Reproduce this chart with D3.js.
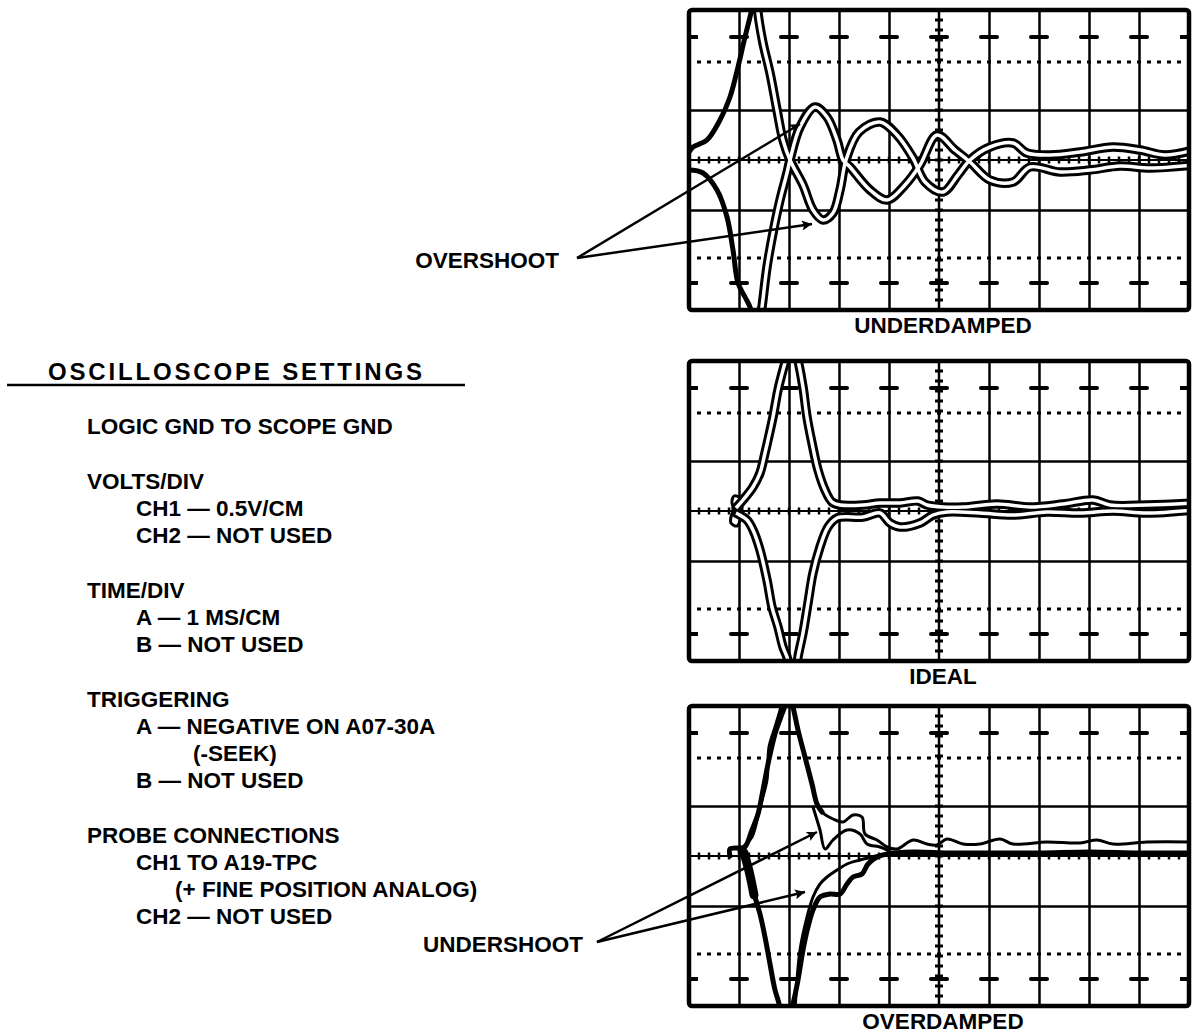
<!DOCTYPE html>
<html>
<head>
<meta charset="utf-8">
<script src="https://cdn.jsdelivr.net/npm/d3@7/dist/d3.min.js"></script>
<style>
body{margin:0;background:#fff;}
svg{display:block;}
text{font-family:"Liberation Sans",Arial,Helvetica,sans-serif;font-weight:bold;fill:#000;}
</style>
</head>
<body>
<svg id="chart"></svg>
<script>
// ---------- data (divisions: x 0..10 from left, y -3..3 from centre) ----------
var panelNames = ["UNDERDAMPED","IDEAL","OVERDAMPED"];
var gridCols = [1,2,3,4,6,7,8,9];
var gridRows = [-1,1];
var dottedRows = [-1.96,1.96];
var tickRows = [-2.46,2.46];

// underdamped
var underPosRise = [[0,0.16],[0.08,0.26],[0.36,0.4],[0.62,0.8],[0.82,1.26],[0.98,1.86],[1.12,2.46],[1.22,2.86],[1.3,3.2]];
var underNegFall = [[0,-0.2],[0.28,-0.26],[0.56,-0.6],[0.76,-1.14],[0.88,-1.8],[0.98,-2.46],[1.12,-2.74],[1.22,-2.94],[1.28,-3.2]];
var underPosRing = [[1.36,3.2],[1.38,2.94],[1.48,2.34],[1.62,1.74],[1.76,1.0],[1.88,0.4],[2.02,0],[2.28,-0.5],[2.48,-1.0],[2.68,-1.2],[2.88,-1.06],[3.02,-0.6],[3.14,0],[3.4,0.56],[3.82,0.76],[4.16,0.5],[4.48,0.04],[4.72,-0.44],[5.08,-0.64],[5.38,-0.3],[5.62,0],[6.02,0.26],[6.48,0.34],[6.76,0.14],[7.22,0.1],[7.82,0.16],[8.48,0.26],[9.02,0.2],[9.52,0.1],[10.1,0.2]];
var underNegRing = [[1.42,-3.2],[1.46,-2.94],[1.56,-2.14],[1.68,-1.46],[1.82,-0.8],[1.96,-0.26],[2.02,0],[2.22,0.66],[2.52,1.06],[2.76,0.86],[2.96,0.4],[3.08,0],[3.22,-0.14],[3.62,-0.6],[3.96,-0.8],[4.32,-0.5],[4.62,-0.1],[4.96,0.5],[5.32,0.2],[5.62,-0.04],[6.02,-0.4],[6.48,-0.44],[6.82,-0.14],[7.42,-0.24],[8.02,-0.2],[8.62,-0.12],[9.22,-0.16],[10.1,-0.1]];

// ideal
var idealLoop = [[0.94,0.02],[0.86,0.16],[0.9,0.3],[1.02,0.26],[1.06,0.1],[1.04,-0.12],[0.96,-0.3],[0.84,-0.24],[0.86,-0.06],[0.94,0.02]];
var idealPosRise = [[0.94,0.06],[1.08,0.22],[1.28,0.48],[1.42,0.76],[1.52,1.16],[1.58,1.42],[1.68,1.88],[1.78,2.42],[1.88,2.82],[1.96,3.1]];
var idealPosFall = [[2.16,3.1],[2.18,3.02],[2.28,2.48],[2.36,1.88],[2.46,1.36],[2.58,0.82],[2.72,0.42],[2.86,0.18],[3.02,0.12],[3.48,0.12],[3.82,0.16],[4.22,0.16],[4.58,0.2],[4.76,0.12],[5.08,0.08],[5.48,0.08],[6.16,0.14],[6.82,0.08],[7.48,0.14],[8.08,0.22],[8.42,0.12],[9.16,0.12],[10.1,0.16]];
var idealNegFall = [[0.94,-0.04],[1.16,-0.18],[1.28,-0.38],[1.42,-0.78],[1.56,-1.38],[1.66,-1.92],[1.78,-2.32],[1.88,-2.72],[1.96,-2.92],[2.0,-3.1]];
var idealNegRise = [[2.16,-3.1],[2.18,-2.92],[2.28,-2.44],[2.38,-1.84],[2.48,-1.24],[2.62,-0.72],[2.78,-0.32],[2.96,-0.14],[3.48,-0.12],[3.82,-0.04],[4.02,-0.24],[4.22,-0.32],[4.62,-0.24],[4.88,-0.08],[5.16,-0.02],[5.82,-0.04],[6.48,-0.08],[7.16,-0.02],[7.82,-0.04],[8.48,0],[9.16,-0.04],[10.1,0.02]];

// overdamped
var overPosRise = [[0.82,0],[0.82,0.14],[1.04,0.16],[1.12,0.18],[1.26,0.52],[1.38,0.84],[1.48,1.32],[1.58,1.84],[1.72,2.44],[1.86,2.84],[1.96,3.1]];
var overPosRiseThin = [[1.1,0.2],[1.26,0.38],[1.42,0.98],[1.56,1.52],[1.6,2.18],[1.72,2.58],[1.82,2.92],[1.86,3.1]];
var overPosFall = [[2.04,3.1],[2.08,2.98],[2.18,2.52],[2.32,1.98],[2.46,1.44],[2.56,1.04],[2.66,0.88]];
var overPosUpper = [[2.56,1.04],[2.66,0.88],[2.88,0.74],[3.08,0.68],[3.28,0.82],[3.46,0.78],[3.52,0.44],[3.76,0.32],[3.96,0.18],[4.16,0.14],[4.48,0.32],[4.76,0.24],[4.96,0.22],[5.16,0.34],[5.48,0.24],[5.82,0.24],[6.22,0.34],[6.48,0.24],[7.16,0.28],[7.82,0.26],[8.16,0.32],[8.48,0.24],[9.16,0.28],[10.1,0.28]];
var overPosInner = [[2.48,0.98],[2.62,0.52],[2.72,0.14],[2.88,0.32],[3.16,0.52],[3.42,0.44],[3.56,0.24],[3.82,0.18],[3.96,0.12],[4.08,0.04],[4.5,0.03],[5.5,0.02],[7,0.04],[8.5,0.02],[10.1,0.04]];
var overNegWedge = [[1.1,0.06],[1.2,-0.3],[1.3,-0.78]];
var overNegFall = [[1.02,0.1],[1.12,-0.02],[1.22,-0.42],[1.32,-0.82],[1.42,-1.16],[1.52,-1.62],[1.62,-2.16],[1.72,-2.68],[1.78,-2.88],[1.84,-3.1]];
var overNegRise = [[2.04,-3.1],[2.08,-2.96],[2.18,-2.48],[2.28,-1.88],[2.38,-1.42],[2.48,-1.08],[2.62,-0.82],[2.82,-0.76],[3.02,-0.76],[3.16,-0.56],[3.28,-0.42],[3.46,-0.36],[3.58,-0.16],[3.76,-0.02],[3.96,0.04],[4.48,0.08],[5.2,0.06],[6,0.06],[7,0.06],[8,0.08],[9,0.06],[10.1,0.06]];
var overNegRiseInner = [[2.12,-3.1],[2.22,-1.88],[2.36,-1.22],[2.48,-0.82],[2.62,-0.56],[2.76,-0.42],[2.96,-0.28],[3.16,-0.16],[3.42,-0.08],[3.82,0.02]];

// text
var settingsTitle = "OSCILLOSCOPE SETTINGS";
var settingsHeads = ["LOGIC GND TO SCOPE GND","VOLTS/DIV","TIME/DIV","TRIGGERING","PROBE CONNECTIONS"];
var settingsItems = [
    [],
    ["CH1 \u2014 0.5V/CM","CH2 \u2014 NOT USED"],
    ["A \u2014 1 MS/CM","B \u2014 NOT USED"],
    ["A \u2014 NEGATIVE ON A07-30A","(-SEEK)","B \u2014 NOT USED"],
    ["CH1 TO A19-TPC","(+ FINE POSITION ANALOG)","CH2 \u2014 NOT USED"]
];
var overshootLabel = "OVERSHOOT";
var undershootLabel = "UNDERSHOOT";

// ---------- layout ----------
var screen = {width:1192,height:1036};
var panelW = 500, panelH = 300;
var panelLeft = 689;
var panelTops = [10,361,706];
var fontSize = 22.5;

var svg = d3.select("#chart")
    .attr("width",screen.width)
    .attr("height",screen.height);

var defs = svg.append("defs");
defs.append("marker")
    .attr("id","arrow")
    .attr("viewBox","0 0 10 10")
    .attr("refX",10)
    .attr("refY",5)
    .attr("markerUnits","userSpaceOnUse")
    .attr("markerWidth",16)
    .attr("markerHeight",10)
    .attr("orient","auto")
    .append("path")
    .attr("d","M0,0 L10,5 L0,10 L2,5 z")
    .attr("fill","#000");

var xScale = d3.scaleLinear().domain([0,10]).range([0,panelW]);
var yScale = d3.scaleLinear().domain([-3,3]).range([panelH,0]);

var line = d3.line()
    .x(function(d){return xScale(d[0])})
    .y(function(d){return yScale(d[1])})
    .curve(d3.curveCatmullRom.alpha(0.5));

var traceStyles = {
    heavy:{width:9},
    bold:{width:5},
    thin:{width:3},
    pair:{width:9.5,inner:3.5}
};

var panels = [
    {traces:[
        {pts:underPosRise,style:"bold"},
        {pts:underNegFall,style:"bold"},
        {pts:underPosRing,style:"pair"},
        {pts:underNegRing,style:"pair"}
    ]},
    {traces:[
        {pts:idealLoop,style:"thin"},
        {pts:idealPosRise,style:"pair"},
        {pts:idealPosFall,style:"pair"},
        {pts:idealNegFall,style:"pair"},
        {pts:idealNegRise,style:"pair"}
    ]},
    {traces:[
        {pts:overPosRise,style:"bold"},
        {pts:overPosRiseThin,style:"thin"},
        {pts:overPosFall,style:"bold"},
        {pts:overPosUpper,style:"thin"},
        {pts:overPosInner,style:"thin"},
        {pts:overNegWedge,style:"heavy"},
        {pts:overNegFall,style:"bold"},
        {pts:overNegRise,style:"bold"},
        {pts:overNegRiseInner,style:"thin"}
    ]}
];

var drawGraticule = function(g)
{
    // vertical grid lines
    var xGrid = d3.axisBottom(xScale)
        .tickValues(gridCols)
        .tickSize(-panelH)
        .tickFormat("");
    g.append("g")
        .attr("transform","translate(0,"+panelH+")")
        .call(xGrid)
        .call(function(a){a.select(".domain").remove()})
        .selectAll("line")
        .attr("stroke","#000")
        .attr("stroke-width",2.5);

    // horizontal grid lines
    var yGrid = d3.axisLeft(yScale)
        .tickValues(gridRows)
        .tickSize(-panelW)
        .tickFormat("");
    g.append("g")
        .call(yGrid)
        .call(function(a){a.select(".domain").remove()})
        .selectAll("line")
        .attr("stroke","#000")
        .attr("stroke-width",2.5);

    // dotted lines
    g.selectAll("line.dotted")
        .data(dottedRows)
        .enter()
        .append("line")
        .attr("x1",xScale(0)+8)
        .attr("x2",xScale(10))
        .attr("y1",function(d){return yScale(d)})
        .attr("y2",function(d){return yScale(d)})
        .attr("stroke","#000")
        .attr("stroke-width",3)
        .attr("stroke-dasharray","4,6");

    // centre lines
    g.append("line")
        .attr("x1",xScale(0)).attr("x2",xScale(10))
        .attr("y1",yScale(0)).attr("y2",yScale(0))
        .attr("stroke","#000").attr("stroke-width",2);
    g.append("line")
        .attr("x1",xScale(5)).attr("x2",xScale(5))
        .attr("y1",yScale(3)).attr("y2",yScale(-3))
        .attr("stroke","#000").attr("stroke-width",2.5);

    var minor = d3.range(1,50).map(function(i){return i/5});
    g.selectAll("line.mx")
        .data(minor)
        .enter()
        .append("line")
        .attr("x1",function(d){return xScale(d)})
        .attr("x2",function(d){return xScale(d)})
        .attr("y1",yScale(0)-3.5)
        .attr("y2",yScale(0)+3.5)
        .attr("stroke","#000")
        .attr("stroke-width",2.5);
    var minorY = d3.range(-14,15).map(function(i){return i/5});
    g.selectAll("line.my")
        .data(minorY)
        .enter()
        .append("line")
        .attr("x1",xScale(5)-4)
        .attr("x2",xScale(5)+4)
        .attr("y1",function(d){return yScale(d)})
        .attr("y2",function(d){return yScale(d)})
        .attr("stroke","#000")
        .attr("stroke-width",3);

    // tick bars at the graticule marks
    var cols = gridCols.concat([5]);
    tickRows.forEach(function(r)
    {
        g.selectAll(null)
            .data(cols)
            .enter()
            .append("line")
            .attr("x1",function(d){return xScale(d)-8})
            .attr("x2",function(d){return xScale(d)+8})
            .attr("y1",yScale(r))
            .attr("y2",yScale(r))
            .attr("stroke","#000")
            .attr("stroke-width",4)
            .attr("stroke-linecap","round");
        g.append("line")
            .attr("x1",xScale(0)).attr("x2",xScale(0)+9)
            .attr("y1",yScale(r)).attr("y2",yScale(r))
            .attr("stroke","#000").attr("stroke-width",4);
        g.append("line")
            .attr("x1",xScale(10)-9).attr("x2",xScale(10))
            .attr("y1",yScale(r)).attr("y2",yScale(r))
            .attr("stroke","#000").attr("stroke-width",4);
    })
}

var drawTraces = function(g,panel,index)
{
    var clipId = "clip"+index;
    defs.append("clipPath")
        .attr("id",clipId)
        .append("rect")
        .attr("x",0).attr("y",0)
        .attr("width",panelW).attr("height",panelH);

    var tg = g.append("g").attr("clip-path","url(#"+clipId+")");

    tg.selectAll("path.ink")
        .data(panel.traces)
        .enter()
        .append("path")
        .attr("d",function(t){return line(t.pts)})
        .attr("fill","none")
        .attr("stroke","#000")
        .attr("stroke-linejoin","round")
        .attr("stroke-linecap","round")
        .attr("stroke-width",function(t){return traceStyles[t.style].width});

    tg.selectAll("path.gap")
        .data(panel.traces.filter(function(t){return traceStyles[t.style].inner}))
        .enter()
        .append("path")
        .attr("d",function(t){return line(t.pts)})
        .attr("fill","none")
        .attr("stroke","#fff")
        .attr("stroke-linejoin","round")
        .attr("stroke-width",function(t){return traceStyles[t.style].inner});
}

panels.forEach(function(panel,i)
{
    var g = svg.append("g")
        .attr("transform","translate("+panelLeft+","+panelTops[i]+")");

    drawGraticule(g);
    drawTraces(g,panel,i);

    g.append("rect")
        .attr("x",0).attr("y",0)
        .attr("width",panelW).attr("height",panelH)
        .attr("rx",3)
        .attr("fill","none")
        .attr("stroke","#000")
        .attr("stroke-width",4.5);

    g.append("text")
        .text(panelNames[i])
        .attr("x",xScale(5.08))
        .attr("y",panelH+23)
        .attr("text-anchor","middle")
        .style("font-size",fontSize+"px");

    panel.g = g;
})

// ---------- annotations ----------
var drawPointer = function(g,label,vertex,tips,textX)
{
    tips.forEach(function(t)
    {
        g.append("line")
            .attr("x1",xScale(vertex[0]))
            .attr("y1",yScale(vertex[1]))
            .attr("x2",xScale(t[0]))
            .attr("y2",yScale(t[1]))
            .attr("stroke","#000")
            .attr("stroke-width",2.5)
            .attr("marker-end","url(#arrow)");
    })
    g.append("text")
        .text(label)
        .attr("x",xScale(vertex[0])-textX)
        .attr("y",yScale(vertex[1])+10)
        .attr("text-anchor","end")
        .style("font-size",fontSize+"px");
}

drawPointer(panels[0].g,overshootLabel,[-2.24,-1.96],[[2.22,0.72],[2.46,-1.28]],18);
drawPointer(panels[2].g,undershootLabel,[-1.84,-1.72],[[2.56,0.48],[2.32,-0.72]],14);

// ---------- settings block ----------
var settings = svg.append("g");

settings.append("text")
    .text(settingsTitle)
    .attr("x",48)
    .attr("y",380)
    .attr("textLength",374)
    .attr("lengthAdjust","spacing")
    .style("font-size","24px");
settings.append("line")
    .attr("x1",7).attr("x2",465)
    .attr("y1",385).attr("y2",385)
    .attr("stroke","#000")
    .attr("stroke-width",2.5);

var lineGap = 27, groupGap = 55;
var yPos = 434;
settingsHeads.forEach(function(head,i)
{
    settings.append("text")
        .text(head)
        .attr("x",87)
        .attr("y",yPos)
        .style("font-size",fontSize+"px");
    settingsItems[i].forEach(function(item,j)
    {
        yPos += lineGap;
        var indent = 136;
        if (item.charAt(0)=="(")
        {
            indent = item.charAt(1)=="-" ? 193 : 175;
        }
        settings.append("text")
            .text(item)
            .attr("x",indent)
            .attr("y",yPos)
            .style("font-size",fontSize+"px");
    })
    yPos += groupGap;
})
</script>
</body>
</html>
